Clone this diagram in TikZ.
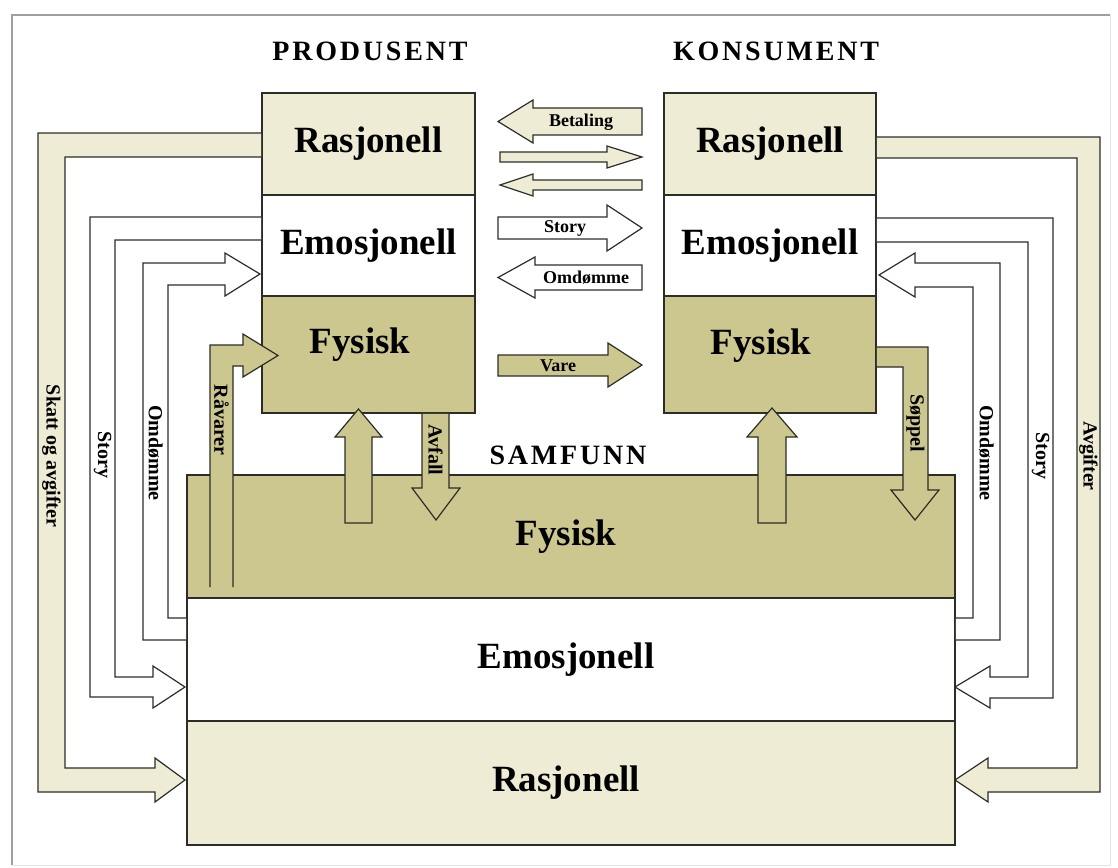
\documentclass[tikz,border=0pt]{standalone}
\usepackage{fontspec}
\setmainfont{Liberation Serif}
\newfontfamily\headfont[LetterSpace=10]{Liberation Serif}
\usepackage{tikz}
\usetikzlibrary{positioning}

\definecolor{fysiskfarge}{RGB}{204,199,143}
\definecolor{rasjfarge}{RGB}{238,236,212}
\definecolor{strek}{RGB}{45,45,40}

\begin{document}
\begin{tikzpicture}[x=1pt, y=-1pt,
  boks/.style={draw=strek, line width=1.6pt, inner sep=0pt,
    font=\fontsize{37}{40}\selectfont\bfseries},
  boksR/.style={boks, fill=rasjfarge},
  boksE/.style={boks, fill=white},
  boksF/.style={boks, fill=fysiskfarge},
  boksnavn/.style={font=\fontsize{37}{40}\selectfont\bfseries, inner sep=0pt},
  overskrift/.style={font=\headfont\fontsize{28}{30}\selectfont\bfseries, inner sep=0pt},
  pil/.style={draw=strek, line width=1.2pt, line join=miter},
  pilR/.style={pil, fill=rasjfarge},
  pilE/.style={pil, fill=white},
  pilF/.style={pil, fill=fysiskfarge},
  piltekst/.style={font=\fontsize{18}{20}\selectfont\bfseries, inner sep=0pt},
  sidetekst/.style={font=\fontsize{20}{22}\selectfont\bfseries, inner sep=0pt, rotate=-90}]
  \useasboundingbox (0,0) rectangle (1118,867);

  % === ramme ===
  \draw[gray!75, line width=1.2pt] (12,865) -- (12,15) -- (1110,15);
  \draw[gray!20, line width=1pt] (1110,15) -- (1110,865) -- (12,865);

  % === overskrifter ===
  \node[overskrift] (produsent) at (370,51) {PRODUSENT};
  \node[overskrift] (konsument) at (776,51) {KONSUMENT};
  \node[overskrift] (samfunn) at (568,455) {SAMFUNN};

  % === produsent (x 262 -- 475) ===
  \node[boksR, minimum width=213, minimum height=102] (prodR) at (368.5,144) {Rasjonell};
  \node[boksE, minimum width=213, minimum height=101] (prodE) at (368.5,245.5) {Emosjonell};
  \node[boksF, minimum width=213, minimum height=117] (prodF) at (368.5,354.5) {};
  \node[boksnavn] (prodFtxt) at (360,345) {Fysisk};

  % === konsument (x 664 -- 876) ===
  \node[boksR, minimum width=212, minimum height=102] (konsR) at (770,144) {Rasjonell};
  \node[boksE, minimum width=212, minimum height=101] (konsE) at (770,245.5) {Emosjonell};
  \node[boksF, minimum width=212, minimum height=117] (konsF) at (770,354.5) {};
  \node[boksnavn] (konsFtxt) at (761,346) {Fysisk};

  % === samfunn (x 187 -- 955) ===
  \node[boksF, minimum width=768, minimum height=123] (samF) at (571,536.5) {};
  \node[boksnavn] (samFtxt) at (566,537) {Fysisk};
  \node[boksE, minimum width=768, minimum height=123] (samE) at (571,659.5) {};
  \node[boksnavn] (samEtxt) at (566,660) {Emosjonell};
  \node[boksR, minimum width=768, minimum height=124] (samR) at (571,783) {};
  \node[boksnavn] (samRtxt) at (566,783) {Rasjonell};

  % === piler mellom produsent og konsument ===
  \draw[pilR] (642,108) -- (533,108) -- (533,100) -- (498,121.5) -- (533,143) -- (533,135) -- (642,135) -- cycle;
  \node[piltekst] (betaling) at (581,122) {Betaling};
  \draw[pilR] (500,152) -- (607,152) -- (607,146) -- (642,157) -- (607,168) -- (607,162) -- (500,162) -- cycle;
  \draw[pilR] (642,180) -- (533,180) -- (533,174) -- (500,185) -- (533,196) -- (533,190) -- (642,190) -- cycle;
  \draw[pilE] (498,217) -- (607,217) -- (607,205) -- (642,228) -- (607,251) -- (607,239) -- (498,239) -- cycle;
  \node[piltekst] (storyM) at (565,228) {Story};
  \draw[pilE] (642,265) -- (535,265) -- (535,257) -- (498,277.5) -- (535,298) -- (535,290) -- (642,290) -- cycle;
  \node[piltekst] (omdommeM) at (586,278) {Omdømme};
  \draw[pilF] (498,355) -- (608,355) -- (608,343) -- (642,365) -- (608,387) -- (608,376) -- (498,376) -- cycle;
  \node[piltekst] (vare) at (558,366) {Vare};

  % === venstre side: produsent <-> samfunn ===
  % skatt og avgifter (ytterst)
  \draw[pilR] (261.2,133) -- (38,133) -- (38,792) -- (155,792) -- (155,802) -- (185,780) -- (155,758) -- (155,768) -- (65,768) -- (65,157) -- (261.2,157);
  \node[sidetekst] (skatt) at (51.5,456) {Skatt og avgifter};
  % story
  \draw[pilE] (261.2,217) -- (90,217) -- (90,697) -- (153,697) -- (153,708) -- (185,687) -- (153,666) -- (153,677) -- (115,677) -- (115,240) -- (261.2,240);
  \node[sidetekst] (storyV) at (102.5,455) {Story};
  % omdomme (inn til produsent)
  \draw[pilE] (186.2,640) -- (143,640) -- (143,263) -- (225,263) -- (225,253) -- (260,274) -- (225,296) -- (225,285) -- (168,285) -- (168,618) -- (186.2,618);
  \node[sidetekst] (omdommeV) at (155.5,453) {Omdømme};
  % ravarer
  \draw[pilF] (210,587) -- (210,345) -- (243,345) -- (243,334) -- (278,355.5) -- (243,377) -- (243,366) -- (233,366) -- (233,587);
  \node[sidetekst] (ravarer) at (221.5,420) {Råvarer};

  % === fysiske piler under boksene ===
  \draw[pilF] (345,523) -- (345,437) -- (335,437) -- (358.5,409) -- (382,437) -- (372,437) -- (372,523) -- cycle;
  \draw[pilF] (422,413.8) -- (422,488) -- (412,488) -- (436,520) -- (460,488) -- (449,488) -- (449,413.8);
  \node[sidetekst] (avfall) at (435.5,450) {Avfall};
  \draw[pilF] (758,523) -- (758,437) -- (747,437) -- (772,408) -- (797,437) -- (786,437) -- (786,523) -- cycle;
  \draw[pilF] (876.8,347) -- (928,347) -- (928,490) -- (939,490) -- (915,520) -- (891,490) -- (903,490) -- (903,367) -- (876.8,367);
  \node[sidetekst] (soppel) at (915.5,423) {Søppel};

  % === hoyre side: konsument <-> samfunn ===
  % avgifter (ytterst)
  \draw[pilR] (876.8,137) -- (1100,137) -- (1100,792) -- (988,792) -- (988,802) -- (955,780) -- (988,758) -- (988,768) -- (1077,768) -- (1077,158) -- (876.8,158);
  \node[sidetekst] (avgifter) at (1088.5,456) {Avgifter};
  % story
  \draw[pilE] (876.8,218) -- (1053,218) -- (1053,698) -- (990,698) -- (990,708) -- (955,687) -- (990,666) -- (990,677) -- (1028,677) -- (1028,242) -- (876.8,242);
  \node[sidetekst] (storyH) at (1040.5,456) {Story};
  % omdomme (inn til konsument)
  \draw[pilE] (955.8,640) -- (1000,640) -- (1000,263) -- (915,263) -- (915,253) -- (879,275) -- (915,297) -- (915,287) -- (973,287) -- (973,618) -- (955.8,618);
  \node[sidetekst] (omdommeH) at (986.5,453) {Omdømme};
\end{tikzpicture}
\end{document}
